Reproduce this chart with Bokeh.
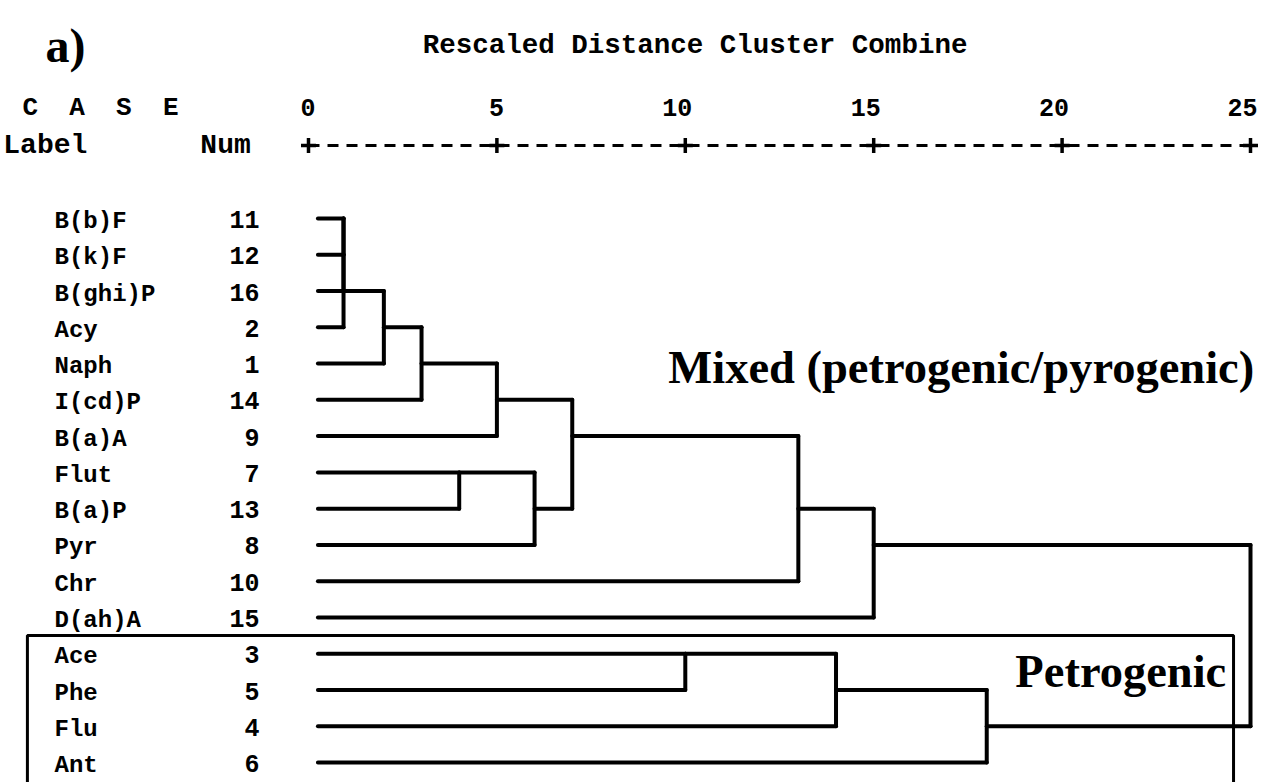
import math
from bokeh.plotting import figure
from bokeh.models import Range1d
from bokeh.core.properties import value
from bokeh.embed import file_html
from bokeh.resources import INLINE

# ---------------- data ----------------
case_labels = ["B(b)F", "B(k)F", "B(ghi)P", "Acy", "Naph", "I(cd)P", "B(a)A", "Flut",
               "B(a)P", "Pyr", "Chr", "D(ah)A", "Ace", "Phe", "Flu", "Ant"]
case_nums = ["11", "12", "16", "2", "1", "14", "9", "7",
             "13", "8", "10", "15", "3", "5", "4", "6"]

# agglomeration schedule (leaf ids 0..15 are rows, merge k creates id 16+k)
merge_a = [0, 16, 17, 18, 19, 20, 7, 22, 21, 24, 25, 12, 27, 28, 26]
merge_b = [1, 2, 3, 4, 5, 6, 8, 9, 23, 10, 11, 13, 14, 15, 29]
merge_dist = [0.93, 0.93, 0.93, 2.0, 3.0, 5.0, 4.0, 6.0, 7.0, 13.0, 15.0, 10.0, 14.0, 18.0, 25.0]

tick_values = [0, 5, 10, 15, 20, 25]
tick_labels = ["0", "5", "10", "15", "20", "25"]

title_text = "Rescaled Distance Cluster Combine"
panel_text = "a)"
header_case = "C\u00a0\u00a0A\u00a0\u00a0S\u00a0\u00a0E"
header_cols = ["Label", "Num"]
group_names = ["Mixed (petrogenic/pyrogenic)", "Petrogenic"]

# ---------------- figure ----------------
W, H = 1261, 782
p = figure(width=W, height=H, output_backend="svg", toolbar_location=None,
           x_range=Range1d(-8.174, 25.292), y_range=Range1d(15.55, -6.01),
           x_axis_location=None, y_axis_location=None, min_border=0,
           background_fill_color="white", border_fill_color="white")
p.outline_line_color = None
p.grid.visible = False

MONO = value("Liberation Mono")
SERIF = value("Liberation Serif")
INK = "#000000"

# ---------------- dendrogram ----------------
leaf_start = 0.25
out_row = {i: i for i in range(len(case_labels))}
start_x = {i: leaf_start for i in range(len(case_labels))}
x0, y0, x1, y1 = [], [], [], []
for k, (a, b, d) in enumerate(zip(merge_a, merge_b, merge_dist)):
    for c in (a, b):
        x0.append(start_x[c]); y0.append(out_row[c]); x1.append(d); y1.append(out_row[c])
    x0.append(d); y0.append(out_row[a]); x1.append(d); y1.append(out_row[b])
    nid = len(case_labels) + k
    out_row[nid] = math.floor((out_row[a] + out_row[b]) / 2)
    start_x[nid] = d

p.segment(x0=x0, y0=y0, x1=x1, y1=y1, line_color=INK, line_width=4, line_cap="round")

# ---------------- distance scale (SPSS style) ----------------
axis_row = -2.01
p.line(x=[tick_values[0], tick_values[-1]], y=[axis_row, axis_row], line_color=INK,
       line_width=3, line_dash="11 8")
p.scatter(x=tick_values, y=[axis_row] * len(tick_values), marker="cross", size=15,
          line_color=INK, line_width=3.5)
p.text(x=tick_values, y=[-3.05] * len(tick_values), text=tick_labels, text_font=MONO,
       text_font_style="bold", text_font_size="25px", text_align="right",
       text_baseline="middle", x_offset=7, text_color=INK)

# ---------------- case labels ----------------
rows = list(range(len(case_labels)))
p.text(x=[-6.74] * len(rows), y=rows, text=case_labels, text_font=MONO, text_font_style="bold",
       text_font_size="24px", text_align="left", text_baseline="middle", y_offset=3,
       text_color=INK)
p.text(x=[-1.3] * len(rows), y=rows, text=case_nums, text_font=MONO, text_font_style="bold",
       text_font_size="25px", text_align="right", text_baseline="middle", y_offset=1,
       text_color=INK)

# headers
p.text(x=[-7.59], y=[-3.05], text=[header_case], text_font=MONO, text_font_style="bold",
       text_font_size="26px", text_align="left", text_baseline="middle", text_color=INK)
p.text(x=[-8.1, -2.87], y=[-2.01, -2.01], text=header_cols, text_font=MONO,
       text_font_style="bold", text_font_size="28px", text_align="left",
       text_baseline="middle", text_color=INK)
p.text(x=[10.26], y=[-4.77], text=[title_text], text_font=MONO, text_font_style="bold",
       text_font_size="27.5px", text_align="center", text_baseline="middle", text_color=INK)
p.text(x=[-6.98], y=[-4.77], text=[panel_text], text_font=SERIF, text_font_style="bold",
       text_font_size="48px", text_align="left", text_baseline="middle", text_color=INK)

# group annotations
p.text(x=[9.55, 18.76], y=[4.1, 12.5], text=group_names, text_font=SERIF,
       text_font_style="bold", text_font_size="46.5px", text_align="left",
       text_baseline="alphabetic", text_color=INK)

# petrogenic box
box_x = [-7.46, -7.46, 24.55, 24.55]
box_y = [16.0, 11.5, 11.5, 16.0]
p.line(x=box_x, y=box_y, line_color=INK, line_width=3)

open("out.html", "w").write(file_html(p, INLINE))
